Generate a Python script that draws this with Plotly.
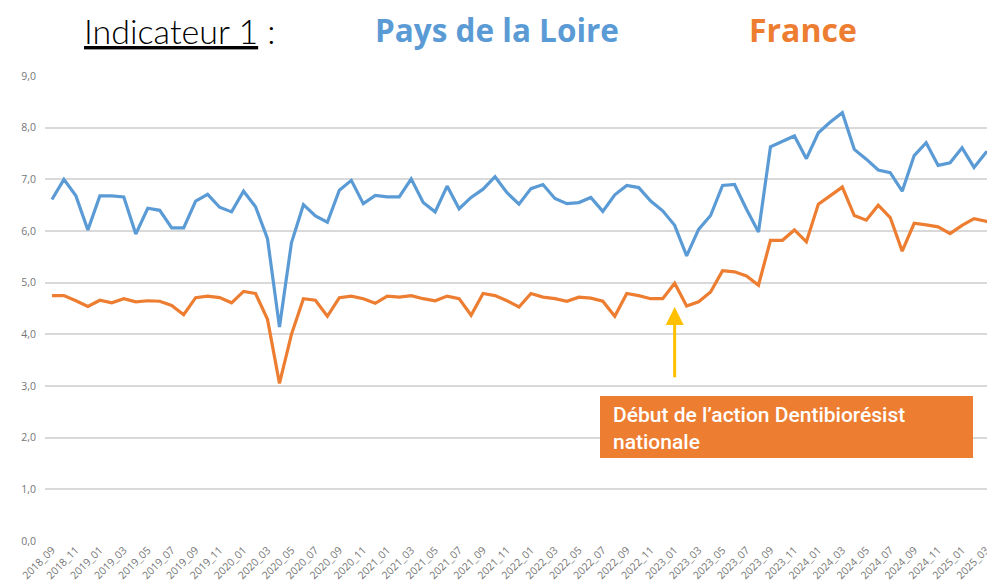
import plotly.graph_objects as go

months = [
    "2018_09", "2018_10", "2018_11", "2018_12",
    "2019_01", "2019_02", "2019_03", "2019_04", "2019_05", "2019_06",
    "2019_07", "2019_08", "2019_09", "2019_10", "2019_11", "2019_12",
    "2020_01", "2020_02", "2020_03", "2020_04", "2020_05", "2020_06",
    "2020_07", "2020_08", "2020_09", "2020_10", "2020_11", "2020_12",
    "2021_01", "2021_02", "2021_03", "2021_04", "2021_05", "2021_06",
    "2021_07", "2021_08", "2021_09", "2021_10", "2021_11", "2021_12",
    "2022_01", "2022_02", "2022_03", "2022_04", "2022_05", "2022_06",
    "2022_07", "2022_08", "2022_09", "2022_10", "2022_11", "2022_12",
    "2023_01", "2023_02", "2023_03", "2023_04", "2023_05", "2023_06",
    "2023_07", "2023_08", "2023_09", "2023_10", "2023_11", "2023_12",
    "2024_01", "2024_02", "2024_03", "2024_04", "2024_05", "2024_06",
    "2024_07", "2024_08", "2024_09", "2024_10", "2024_11", "2024_12",
    "2025_01", "2025_02", "2025_03", "2025_04",
]

pays_de_la_loire = [
    6.61, 7.00, 6.68, 6.02, 6.68, 6.68, 6.66, 5.94, 6.44, 6.40,
    6.06, 6.06, 6.58, 6.71, 6.46, 6.37, 6.77, 6.47, 5.85, 4.14,
    5.77, 6.51, 6.29, 6.17, 6.79, 6.98, 6.53, 6.69, 6.66, 6.66,
    7.01, 6.55, 6.37, 6.87, 6.43, 6.65, 6.81, 7.05, 6.74, 6.52,
    6.82, 6.90, 6.63, 6.53, 6.55, 6.65, 6.38, 6.70, 6.88, 6.84,
    6.58, 6.39, 6.11, 5.52, 6.03, 6.30, 6.88, 6.90, 6.42, 5.98,
    7.63, 7.74, 7.84, 7.40, 7.90, 8.11, 8.29, 7.58, 7.39, 7.18,
    7.13, 6.77, 7.46, 7.71, 7.27, 7.32, 7.61, 7.23, 7.52, 7.60,
]

france = [
    4.75, 4.75, 4.65, 4.54, 4.66, 4.61, 4.69, 4.63, 4.65, 4.64,
    4.56, 4.38, 4.71, 4.74, 4.71, 4.61, 4.83, 4.79, 4.29, 3.05,
    4.00, 4.69, 4.66, 4.35, 4.71, 4.74, 4.69, 4.60, 4.74, 4.72,
    4.75, 4.69, 4.65, 4.74, 4.69, 4.37, 4.79, 4.75, 4.65, 4.53,
    4.79, 4.72, 4.69, 4.64, 4.72, 4.70, 4.64, 4.35, 4.79, 4.75,
    4.69, 4.69, 4.99, 4.55, 4.63, 4.82, 5.23, 5.21, 5.13, 4.95,
    5.82, 5.82, 6.02, 5.79, 6.52, 6.69, 6.85, 6.30, 6.21, 6.50,
    6.26, 5.61, 6.15, 6.12, 6.08, 5.95, 6.11, 6.24, 6.19, 6.11,
]

tick_labels = [
    "2018_09", "2018_11", "2019_01", "2019_03", "2019_05", "2019_07",
    "2019_09", "2019_11", "2020_01", "2020_03", "2020_05", "2020_07",
    "2020_09", "2020_11", "2021_01", "2021_03", "2021_05", "2021_07",
    "2021_09", "2021_11", "2022_01", "2022_03", "2022_05", "2022_07",
    "2022_09", "2022_11", "2023_01", "2023_03", "2023_05", "2023_07",
    "2023_09", "2023_11", "2024_01", "2024_03", "2024_05", "2024_07",
    "2024_09", "2024_11", "2025_01", "2025_03",
]

y_ticks = [0, 1, 2, 3, 4, 5, 6, 7, 8, 9]

action_month = "2023_01"
action_text = "Début de l’action Dentibiorésist<br>nationale"

BLUE = "#5B9BD5"
ORANGE = "#ED7D31"
GRID = "#D9D9D9"
TICK = "#767676"

fig = go.Figure()
fig.add_trace(go.Scatter(x=months, y=pays_de_la_loire, mode="lines",
                         line=dict(color=BLUE, width=3.2), name="Pays de la Loire"))
fig.add_trace(go.Scatter(x=months, y=france, mode="lines",
                         line=dict(color=ORANGE, width=3.2), name="France"))

# page has an 8px body margin; plot area on the page: x 45..995, y 76..541
OFF = 8
W, H = 995 - OFF, 586 - OFF
L, R, T, B = 45 - OFF, 0, 76 - OFF, 45
pw, ph = W - L - R, H - T - B


def px(x):
    return (x - OFF - L) / pw


def py(y):
    return (H - B - (y - OFF)) / ph


ai = months.index(action_month)

fig.update_layout(
    width=W, height=H,
    margin=dict(l=L, r=R, t=T, b=B),
    paper_bgcolor="white", plot_bgcolor="white",
    showlegend=False,
    separators=", ",
    xaxis=dict(
        type="category",
        range=[-0.58, 78.75],
        tickmode="array", tickvals=tick_labels, ticktext=tick_labels,
        tickangle=-45, showgrid=False, zeroline=False, showline=False,
        ticks="", tickfont=dict(family="Open Sans", size=10.5, color=TICK),
    ),
    yaxis=dict(
        range=[0, 9], tickmode="array", tickvals=y_ticks, tickformat=".1f",
        showgrid=True, gridcolor=GRID, gridwidth=1.5, zeroline=False,
        showline=False, ticks="", ticklabelstandoff=8,
        tickfont=dict(family="Open Sans", size=10.5, color=TICK),
    ),
    shapes=[
        dict(type="rect", xref="paper", yref="paper",
             x0=px(600), x1=px(973), y0=py(458), y1=py(396),
             fillcolor=ORANGE, line=dict(width=0), layer="above"),
    ],
    annotations=[
        dict(x=ai, y=4.53, ax=ai, ay=3.14, xref="x", yref="y", axref="x", ayref="y",
             text="", showarrow=True, arrowhead=2, arrowsize=1.2, arrowwidth=3,
             arrowcolor="#FFC000"),
        dict(x=px(611), y=py(428), xref="paper", yref="paper",
             xanchor="left", yanchor="middle", align="left",
             text=action_text, showarrow=False,
             font=dict(family="Roboto", size=21, color="white", weight=500)),
        dict(x=px(180), y=py(30), xref="paper", yref="paper",
             xanchor="center", yanchor="middle", borderpad=0,
             text="<u>Indicateur 1</u> :", showarrow=False,
             font=dict(family="Lato", size=34, color="black", weight=300)),
        dict(x=px(497), y=py(29), xref="paper", yref="paper",
             xanchor="center", yanchor="middle", borderpad=0,
             text="<b>Pays de la Loire</b>", showarrow=False,
             font=dict(family="Open Sans", size=31.5, color=BLUE)),
        dict(x=px(803), y=py(29), xref="paper", yref="paper",
             xanchor="center", yanchor="middle", borderpad=0,
             text="<b>France</b>", showarrow=False,
             font=dict(family="Open Sans", size=32, color=ORANGE)),
    ],
)

fig.write_html("out.html")
